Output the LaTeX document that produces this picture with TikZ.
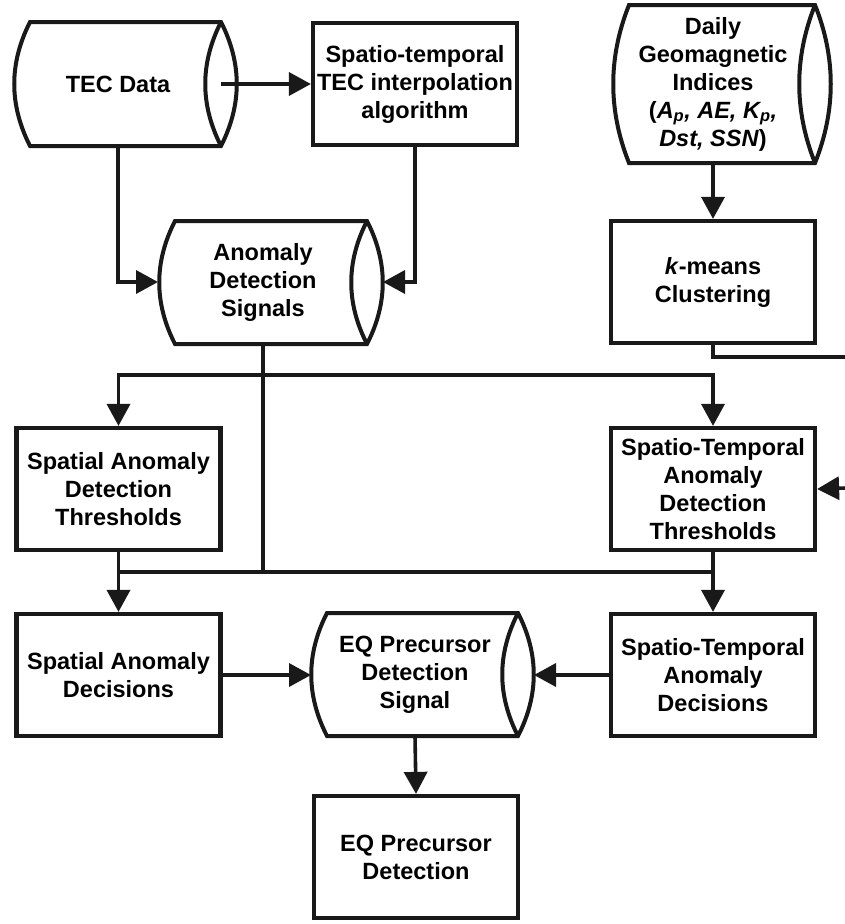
\documentclass[tikz,border=0pt]{standalone}
\usepackage{fontspec}
\setmainfont{Liberation Sans}
\usetikzlibrary{arrows.meta}
\newcommand\cylshape[4]{%
  \draw[shp] (#2,#3) -- (#1,#3)
    .. controls ({#1-21},{#3+(#4-#3)/3}) and ({#1-21},{#3+2*(#4-#3)/3}) .. (#1,#4)
    -- (#2,#4)
    .. controls ({#2+21},{#3+2*(#4-#3)/3}) and ({#2+21},{#3+(#4-#3)/3}) .. cycle;
  \draw[shp] (#2,#3)
    .. controls ({#2-21},{#3+(#4-#3)/3}) and ({#2-21},{#3+2*(#4-#3)/3}) .. (#2,#4);
}
\tikzset{
  txtfont/.style={font=\bfseries\fontsize{23.5}{28}\selectfont},
  shp/.style={line width=4pt, line join=miter, draw=black!90},
  box/.style={draw=black!90, line width=4.2pt, minimum width=204pt, minimum height=122pt,
    align=center, txtfont, inner sep=0pt},
  lbl/.style={align=center, txtfont, inner sep=0pt},
  ln/.style={line width=3.6pt, draw=black!90},
  arr/.style={ln, -{Triangle[length=22pt,width=23pt]}},
}
\begin{document}
\begin{tikzpicture}[x=1pt,y=-1pt]
\useasboundingbox (0,0) rectangle (844,924);
\fill[white] (0,0) rectangle (844,924);

% cylinders
\cylshape{30}{221}{22}{146}
\node[lbl] (tec) at (118,84) {TEC Data};
\coordinate (tecR) at (221,84);
\coordinate (tecB) at (118,146);

\cylshape{175}{367}{221}{344}
\node[lbl] (anom) at (263,282) {Anomaly\\Detection\\Signals};
\coordinate (anomL) at (158,282);
\coordinate (anomR) at (383,282);
\coordinate (anomB) at (263,344);

\cylshape{327}{518}{613}{736}
\node[lbl] (eqsig) at (415,675) {EQ Precursor\\Detection\\Signal};
\coordinate (eqL) at (311,675);
\coordinate (eqR) at (534,675);
\coordinate (eqB) at (415,736);

\cylshape{629}{815}{5}{163}
\node[lbl] (daily) at (713,84) {Daily\\Geomagnetic\\Indices\\(\textit{A\textsubscript{p}, AE, K\textsubscript{p},}\\\textit{Dst, SSN})};
\coordinate (dailyB) at (713,163);

% boxes
\node[box] (interp) at (415,84) {Spatio-temporal\\TEC interpolation\\algorithm};
\node[box] (kmeans) at (713,282) {\textit{k}-means\\Clustering};
\node[box] (spth) at (118.5,489) {Spatial Anomaly\\Detection\\Thresholds};
\node[box] (stth) at (713,489) {Spatio-Temporal\\Anomaly\\Detection\\Thresholds};
\node[box] (spdec) at (118.5,675) {Spatial Anomaly\\Decisions};
\node[box] (stdec) at (713,675) {Spatio-Temporal\\Anomaly\\Decisions};
\node[box] (eqdet) at (416,857) {EQ Precursor\\Detection};

% junction and edge coordinates
\coordinate (j1) at (263,375);
\coordinate (j2) at (263,572);
\coordinate (j2l) at (118.5,572);
\coordinate (j2r) at (713,572);
\coordinate (edge1) at (846,357);
\coordinate (edge2) at (846,488);

% connectors
\draw[arr] (tecR) -- (interp.west);
\draw[arr] (tecB) |- (anomL);
\draw[arr] (interp.south) |- (anomR);
\draw[arr] (dailyB) -- (kmeans.north);
\draw[ln] (kmeans.south) |- (edge1);
\draw[arr] (edge2) -- (stth.east);
\draw[ln] (anomB) -- (j2);
\draw[arr] (j1) -| (spth.north);
\draw[arr] (j1) -| (stth.north);
\draw[ln] (j2l) -- (j2r);
\draw[arr] (spth.south) -- (spdec.north);
\draw[arr] (stth.south) -- (stdec.north);
\draw[arr] (spdec.east) -- (eqL);
\draw[arr] (stdec.west) -- (eqR);
\draw[arr] (eqB) -- (eqdet.north);
\end{tikzpicture}
\end{document}
